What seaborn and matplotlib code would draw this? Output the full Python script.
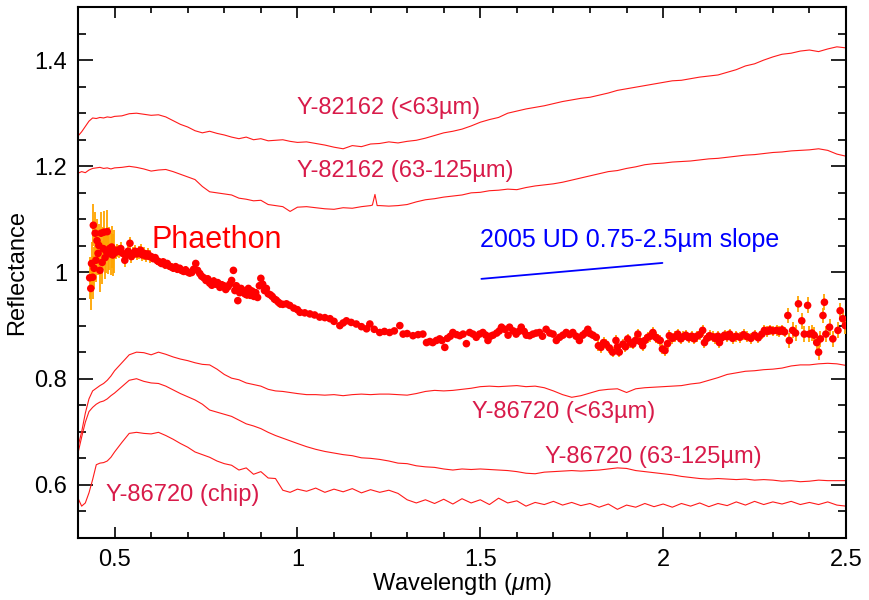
import numpy as np
import pandas as pd
import matplotlib
matplotlib.use("Agg")
import matplotlib.pyplot as plt
from matplotlib.ticker import MultipleLocator
import seaborn as sns

# ---------------- data ----------------
# common wavelength grid (µm) for the laboratory spectra
lab_wl = [0.40, 0.41, 0.42, 0.43, 0.44, 0.45, 0.46, 0.47, 0.48, 0.49, 0.50,
          0.52, 0.54, 0.56, 0.58, 0.60, 0.62, 0.64, 0.66, 0.68, 0.70, 0.72, 0.74,
          0.76, 0.78, 0.80, 0.82, 0.84, 0.86, 0.88, 0.90, 0.92, 0.94, 0.96, 0.98, 1.00,
          1.025, 1.05, 1.075, 1.10, 1.125, 1.15, 1.175, 1.20, 1.225, 1.25, 1.275, 1.30,
          1.325, 1.35, 1.375, 1.40, 1.425, 1.45, 1.475, 1.50, 1.525, 1.55, 1.575, 1.60,
          1.625, 1.65, 1.675, 1.70, 1.725, 1.75, 1.775, 1.80, 1.825, 1.85, 1.875, 1.90,
          1.925, 1.95, 1.975, 2.00, 2.025, 2.05, 2.075, 2.10, 2.125, 2.15, 2.175, 2.20,
          2.225, 2.25, 2.275, 2.30, 2.325, 2.35, 2.375, 2.40, 2.425, 2.45, 2.475, 2.50]

y82162_fine = [1.257, 1.265, 1.275, 1.285, 1.291, 1.290, 1.292, 1.291, 1.293, 1.292, 1.294,
               1.295, 1.299, 1.300, 1.298, 1.296, 1.297, 1.293, 1.286, 1.279, 1.274, 1.267, 1.263,
               1.266, 1.262, 1.259, 1.255, 1.252, 1.255, 1.250, 1.252, 1.248, 1.249, 1.250, 1.247, 1.245,
               1.246, 1.243, 1.240, 1.236, 1.233, 1.239, 1.237, 1.242, 1.243, 1.246, 1.244, 1.247,
               1.249, 1.253, 1.258, 1.263, 1.266, 1.270, 1.276, 1.283, 1.288, 1.292, 1.300, 1.304,
               1.308, 1.311, 1.314, 1.318, 1.322, 1.325, 1.328, 1.330, 1.334, 1.338, 1.343, 1.346,
               1.349, 1.352, 1.355, 1.358, 1.361, 1.362, 1.365, 1.368, 1.370, 1.372, 1.377, 1.382,
               1.389, 1.393, 1.400, 1.406, 1.411, 1.413, 1.417, 1.419, 1.416, 1.421, 1.425, 1.423]

y82162_coarse = [1.187, 1.190, 1.188, 1.193, 1.196, 1.197, 1.198, 1.196, 1.197, 1.195, 1.197,
                 1.198, 1.200, 1.198, 1.195, 1.191, 1.193, 1.194, 1.190, 1.185, 1.180, 1.175, 1.162,
                 1.152, 1.150, 1.148, 1.146, 1.140, 1.138, 1.135, 1.136, 1.128, 1.126, 1.124, 1.115, 1.123,
                 1.124, 1.122, 1.120, 1.119, 1.122, 1.121, 1.124, 1.126, 1.126, 1.125, 1.126, 1.128,
                 1.133, 1.137, 1.139, 1.142, 1.144, 1.146, 1.150, 1.151, 1.154, 1.155, 1.157, 1.156,
                 1.160, 1.163, 1.165, 1.167, 1.170, 1.174, 1.178, 1.182, 1.186, 1.190, 1.192, 1.196,
                 1.199, 1.203, 1.205, 1.206, 1.208, 1.209, 1.210, 1.212, 1.214, 1.215, 1.217, 1.219,
                 1.221, 1.222, 1.224, 1.226, 1.227, 1.229, 1.230, 1.231, 1.233, 1.230, 1.223, 1.219]
spike_wl = [1.205, 1.212, 1.218]
spike_refl = [1.127, 1.147, 1.126]

y86720_fine = [0.672, 0.700, 0.735, 0.762, 0.777, 0.782, 0.787, 0.791, 0.797, 0.805, 0.815,
               0.830, 0.845, 0.850, 0.849, 0.845, 0.850, 0.846, 0.841, 0.837, 0.834, 0.830, 0.827,
               0.826, 0.818, 0.808, 0.801, 0.798, 0.792, 0.789, 0.786, 0.780, 0.777, 0.776, 0.774, 0.772,
               0.770, 0.770, 0.769, 0.770, 0.768, 0.770, 0.771, 0.770, 0.771, 0.771, 0.770, 0.769,
               0.772, 0.776, 0.778, 0.777, 0.778, 0.780, 0.782, 0.785, 0.786, 0.785, 0.786, 0.787,
               0.785, 0.786, 0.783, 0.777, 0.770, 0.765, 0.768, 0.773, 0.778, 0.780, 0.781, 0.774,
               0.781, 0.783, 0.784, 0.785, 0.786, 0.787, 0.790, 0.792, 0.797, 0.802, 0.808, 0.811,
               0.814, 0.815, 0.817, 0.818, 0.820, 0.824, 0.826, 0.826, 0.828, 0.829, 0.828, 0.825]

y86720_coarse = [0.660, 0.690, 0.718, 0.738, 0.746, 0.752, 0.756, 0.758, 0.762, 0.768, 0.773,
                 0.785, 0.797, 0.800, 0.795, 0.792, 0.791, 0.786, 0.779, 0.772, 0.766, 0.760, 0.752,
                 0.741, 0.737, 0.733, 0.729, 0.722, 0.715, 0.711, 0.706, 0.699, 0.693, 0.688, 0.683, 0.678,
                 0.672, 0.667, 0.663, 0.660, 0.657, 0.655, 0.651, 0.650, 0.648, 0.645, 0.641, 0.640,
                 0.636, 0.634, 0.633, 0.630, 0.628, 0.630, 0.629, 0.630, 0.629, 0.628, 0.627, 0.625,
                 0.622, 0.621, 0.624, 0.625, 0.626, 0.627, 0.626, 0.627, 0.628, 0.630, 0.632, 0.631,
                 0.627, 0.625, 0.623, 0.621, 0.619, 0.616, 0.614, 0.612, 0.611, 0.612, 0.611, 0.610,
                 0.611, 0.609, 0.610, 0.609, 0.607, 0.608, 0.606, 0.607, 0.609, 0.608, 0.608, 0.608]

y86720_chip = [0.575, 0.560, 0.566, 0.585, 0.610, 0.638, 0.641, 0.642, 0.645, 0.652, 0.662,
               0.680, 0.697, 0.699, 0.697, 0.696, 0.699, 0.693, 0.686, 0.678, 0.671, 0.662, 0.657,
               0.652, 0.645, 0.640, 0.637, 0.628, 0.632, 0.620, 0.625, 0.613, 0.612, 0.590, 0.586, 0.592,
               0.588, 0.594, 0.586, 0.592, 0.587, 0.593, 0.585, 0.591, 0.586, 0.590, 0.584, 0.572,
               0.566, 0.572, 0.565, 0.573, 0.564, 0.574, 0.566, 0.572, 0.563, 0.575, 0.566, 0.570,
               0.560, 0.567, 0.563, 0.569, 0.562, 0.567, 0.561, 0.565, 0.558, 0.564, 0.554, 0.562,
               0.558, 0.565, 0.559, 0.564, 0.558, 0.565, 0.560, 0.566, 0.559, 0.565, 0.561, 0.568,
               0.562, 0.569, 0.563, 0.568, 0.564, 0.569, 0.563, 0.567, 0.563, 0.568, 0.562, 0.560]

# Phaethon spectrum, in segments of (wavelength, reflectance, typical 1-sigma error)
ph_wl_a = [0.432, 0.435, 0.437, 0.440, 0.442, 0.444, 0.447, 0.449, 0.452, 0.455, 0.457,
           0.460, 0.463, 0.466, 0.469, 0.471, 0.474, 0.477, 0.480, 0.483, 0.486, 0.489,
           0.492, 0.495, 0.498]
ph_rf_a = [0.990, 0.970, 1.017, 0.991, 1.089, 1.008, 1.074, 1.023, 1.060, 1.036, 1.051,
           1.004, 1.074, 1.019, 1.045, 1.076, 1.028, 1.040, 1.077, 1.038, 1.045, 1.035,
           1.048, 1.033, 1.040]
ph_err_a = 0.04

ph_wl_b = [0.503, 0.508, 0.513, 0.517, 0.522, 0.528, 0.533, 0.537, 0.542, 0.546, 0.551,
           0.556, 0.561, 0.566, 0.571, 0.576, 0.581, 0.586, 0.591, 0.596]
ph_rf_b = [1.038, 1.042, 1.040, 1.045, 1.036, 1.023, 1.033, 1.040, 1.055, 1.030, 1.036,
           1.040, 1.035, 1.038, 1.042, 1.033, 1.036, 1.031, 1.035, 1.030]
ph_err_b = 0.012

ph_wl_c = [0.600, 0.606, 0.611, 0.617, 0.622, 0.628, 0.633, 0.639, 0.644, 0.650, 0.656,
           0.661, 0.667, 0.672, 0.678, 0.683, 0.689, 0.694, 0.700, 0.705, 0.711, 0.716,
           0.722, 0.727, 0.733, 0.738, 0.744, 0.750, 0.755, 0.760, 0.766, 0.771, 0.777,
           0.782, 0.788, 0.793, 0.799, 0.804, 0.810, 0.815, 0.820, 0.825, 0.829, 0.833,
           0.837, 0.842, 0.846, 0.851, 0.856, 0.861, 0.866, 0.871, 0.876, 0.881, 0.886,
           0.891, 0.896, 0.900, 0.905, 0.910, 0.915, 0.920, 0.926, 0.931, 0.937, 0.942,
           0.948, 0.953]
ph_rf_c = [1.030, 1.026, 1.028, 1.022, 1.020, 1.017, 1.020, 1.014, 1.017, 1.012, 1.010,
           1.008, 1.011, 1.006, 1.008, 1.004, 1.002, 1.005, 1.001, 0.999, 1.000, 1.006,
           1.017, 1.004, 0.998, 0.993, 0.990, 0.985, 0.988, 0.980, 0.976, 0.984, 0.978,
           0.981, 0.972, 0.977, 0.975, 0.968, 0.973, 0.978, 0.985, 1.004, 0.966, 0.975,
           0.947, 0.962, 0.970, 0.966, 0.960, 0.958, 0.970, 0.957, 0.965, 0.955, 0.962,
           0.953, 0.975, 0.989, 0.978, 0.966, 0.970, 0.960, 0.958, 0.955, 0.950, 0.948,
           0.944, 0.941]
ph_err_c = 0.007

ph_wl_d = [0.960, 0.970, 0.979, 0.990, 1.000, 1.007, 1.020, 1.034, 1.047, 1.061, 1.075,
           1.089, 1.100, 1.116, 1.125, 1.134, 1.147, 1.161, 1.175, 1.189, 1.198, 1.210,
           1.225, 1.238, 1.252, 1.265, 1.280, 1.289, 1.300, 1.316, 1.330, 1.343, 1.353,
           1.362, 1.370, 1.380, 1.389, 1.395, 1.403, 1.410, 1.418, 1.425, 1.435, 1.444,
           1.453, 1.462, 1.471, 1.480, 1.489, 1.498, 1.507, 1.515, 1.521, 1.528, 1.535,
           1.545, 1.552, 1.558, 1.567, 1.576, 1.580, 1.590, 1.598, 1.605, 1.612, 1.620,
           1.626, 1.635, 1.644, 1.653, 1.662, 1.670, 1.680, 1.690, 1.699, 1.708, 1.717,
           1.726, 1.735, 1.744, 1.753, 1.762, 1.771, 1.780, 1.787, 1.794, 1.800, 1.808,
           1.817]
ph_rf_d = [0.940, 0.941, 0.938, 0.933, 0.930, 0.925, 0.924, 0.922, 0.920, 0.916, 0.915,
           0.913, 0.908, 0.900, 0.905, 0.909, 0.906, 0.903, 0.898, 0.894, 0.903, 0.893,
           0.887, 0.889, 0.887, 0.890, 0.900, 0.884, 0.885, 0.881, 0.883, 0.884, 0.868,
           0.870, 0.868, 0.872, 0.875, 0.872, 0.859, 0.876, 0.880, 0.887, 0.883, 0.881,
           0.884, 0.866, 0.887, 0.884, 0.878, 0.884, 0.887, 0.882, 0.872, 0.880, 0.882,
           0.886, 0.890, 0.897, 0.893, 0.882, 0.897, 0.890, 0.884, 0.889, 0.897, 0.889,
           0.882, 0.881, 0.884, 0.886, 0.887, 0.880, 0.893, 0.886, 0.884, 0.872, 0.878,
           0.882, 0.887, 0.883, 0.887, 0.880, 0.872, 0.882, 0.886, 0.893, 0.885, 0.882,
           0.878]
ph_err_d = 0.006

ph_wl_e = [1.823, 1.830, 1.837, 1.844, 1.853, 1.862, 1.871, 1.875, 1.880, 1.890, 1.897,
           1.903, 1.910, 1.917, 1.924, 1.931, 1.937, 1.944, 1.950, 1.958, 1.965, 1.972,
           1.980, 1.985, 1.992, 1.998, 2.005, 2.012, 2.017, 2.025, 2.032, 2.040, 2.048,
           2.055, 2.062, 2.070, 2.078, 2.085, 2.092, 2.100, 2.108, 2.113, 2.120, 2.127,
           2.135, 2.142, 2.150, 2.154, 2.160, 2.168, 2.175, 2.182, 2.190, 2.200, 2.210,
           2.220, 2.230, 2.240, 2.250, 2.260, 2.270, 2.277, 2.285, 2.292, 2.300, 2.310,
           2.318, 2.325, 2.332]
ph_rf_e = [0.862, 0.859, 0.868, 0.865, 0.858, 0.850, 0.872, 0.860, 0.850, 0.865, 0.860,
           0.875, 0.868, 0.865, 0.872, 0.884, 0.870, 0.862, 0.872, 0.878, 0.880, 0.887,
           0.878, 0.875, 0.872, 0.856, 0.853, 0.866, 0.881, 0.876, 0.879, 0.884, 0.875,
           0.879, 0.882, 0.877, 0.880, 0.875, 0.880, 0.883, 0.891, 0.868, 0.876, 0.881,
           0.879, 0.876, 0.880, 0.868, 0.877, 0.882, 0.879, 0.884, 0.876, 0.880, 0.878,
           0.883, 0.879, 0.876, 0.882, 0.877, 0.884, 0.891, 0.889, 0.892, 0.890, 0.891,
           0.889, 0.892, 0.888]
ph_err_e = 0.010

ph_wl_f = [2.341, 2.345, 2.354, 2.362, 2.370, 2.379, 2.386, 2.395, 2.400, 2.407, 2.413,
           2.420, 2.425, 2.430, 2.437, 2.441, 2.445, 2.455, 2.464, 2.478, 2.484, 2.491,
           2.498]
ph_rf_f = [0.919, 0.872, 0.891, 0.886, 0.941, 0.909, 0.884, 0.938, 0.884, 0.886, 0.882,
           0.868, 0.850, 0.875, 0.919, 0.944, 0.884, 0.897, 0.875, 0.891, 0.928, 0.913,
           0.900]
ph_err_f = 0.015

ud_slope_wl = [1.503, 1.998]
ud_slope_refl = [0.988, 1.018]

# ---------------- assemble ----------------
seg = [(ph_wl_a, ph_rf_a, ph_err_a), (ph_wl_b, ph_rf_b, ph_err_b),
       (ph_wl_c, ph_rf_c, ph_err_c), (ph_wl_d, ph_rf_d, ph_err_d),
       (ph_wl_e, ph_rf_e, ph_err_e), (ph_wl_f, ph_rf_f, ph_err_f)]
ph = pd.concat([pd.DataFrame({"wl": w, "refl": r, "err": [e] * len(w)}) for w, r, e in seg],
               ignore_index=True)

spectra = {
    "Y-82162 (<63µm)": pd.DataFrame({"wl": lab_wl, "refl": y82162_fine}),
    "Y-82162 (63-125µm)": pd.concat([pd.DataFrame({"wl": lab_wl, "refl": y82162_coarse}),
                                     pd.DataFrame({"wl": spike_wl, "refl": spike_refl})]
                                    ).sort_values("wl"),
    "Y-86720 (<63µm)": pd.DataFrame({"wl": lab_wl, "refl": y86720_fine}),
    "Y-86720 (63-125µm)": pd.DataFrame({"wl": lab_wl, "refl": y86720_coarse}),
    "Y-86720 (chip)": pd.DataFrame({"wl": lab_wl, "refl": y86720_chip}),
}

# ---------------- plot ----------------
sns.set_theme(style="ticks")
plt.rcParams["font.family"] = ["Liberation Sans", "DejaVu Sans"]
plt.rcParams["mathtext.fontset"] = "custom"
plt.rcParams["mathtext.it"] = "Liberation Sans:italic"
plt.rcParams["mathtext.rm"] = "Liberation Sans"
plt.rcParams["text.color"] = "black"
plt.rcParams["axes.labelcolor"] = "black"
plt.rcParams["xtick.color"] = "black"
plt.rcParams["ytick.color"] = "black"

fig = plt.figure(figsize=(8.7, 6.0), dpi=100)
ax = fig.add_axes([78 / 870, 62 / 600, 768 / 870, 531 / 600])

for name, df in spectra.items():
    sns.lineplot(data=df, x="wl", y="refl", ax=ax, color="#ff1a1a", lw=0.8,
                 estimator=None, sort=False, legend=False)

ax.errorbar(ph["wl"], ph["refl"], yerr=ph["err"], fmt="none", ecolor="#ffa500",
            elinewidth=1.3, capsize=0, zorder=3)
sns.scatterplot(data=ph, x="wl", y="refl", ax=ax, color="#ff0000", s=30,
                edgecolor="none", linewidth=0, zorder=4, legend=False)

sns.lineplot(x=ud_slope_wl, y=ud_slope_refl, ax=ax, color="#0000ff", lw=1.3,
             estimator=None, legend=False)

lab_col = "#d81b4a"
ax.text(0.998, 1.309, "Y-82162 (<63µm)", color=lab_col, fontsize=17, va="center", ha="left")
ax.text(0.998, 1.192, "Y-82162 (63-125µm)", color=lab_col, fontsize=17, va="center", ha="left")
ax.text(1.477, 0.737, "Y-86720 (<63µm)", color=lab_col, fontsize=17, va="center", ha="left")
ax.text(1.676, 0.653, "Y-86720 (63-125µm)", color=lab_col, fontsize=17, va="center", ha="left")
ax.text(0.477, 0.581, "Y-86720 (chip)", color=lab_col, fontsize=17, va="center", ha="left")
ax.text(0.602, 1.061, "Phaethon", color="#ff0000", fontsize=22, va="center", ha="left")
ax.text(1.5, 1.062, "2005 UD 0.75-2.5µm slope", color="#0000ff", fontsize=18,
        va="center", ha="left")

ax.set_xlim(0.4, 2.5)
ax.set_ylim(0.5, 1.5)
ax.xaxis.set_major_locator(MultipleLocator(0.5))
ax.xaxis.set_minor_locator(MultipleLocator(0.1))
ax.yaxis.set_major_locator(MultipleLocator(0.2))
ax.yaxis.set_minor_locator(MultipleLocator(0.05))

def fmt(v, _):
    if abs(v - round(v)) < 1e-9:
        return str(int(round(v)))
    return f"{v:.1f}"
ax.xaxis.set_major_formatter(plt.FuncFormatter(fmt))
ax.yaxis.set_major_formatter(plt.FuncFormatter(fmt))

ax.tick_params(axis="both", which="both", direction="in", top=True, right=True,
               colors="black", labelcolor="black", labelsize=17, width=1.2)
ax.tick_params(axis="x", which="major", length=8, pad=8)
ax.tick_params(axis="x", which="minor", length=4.3)
ax.tick_params(axis="y", which="major", length=11, pad=8)
ax.tick_params(axis="y", which="minor", length=6)
for sp in ax.spines.values():
    sp.set_linewidth(1.5)
    sp.set_color("black")

ax.set_xlabel(r"Wavelength ($\mu$m)", fontsize=17, labelpad=0, color="black")
ax.set_ylabel("Reflectance", fontsize=17, labelpad=4, color="black")

fig.savefig("out.png", dpi=100)
